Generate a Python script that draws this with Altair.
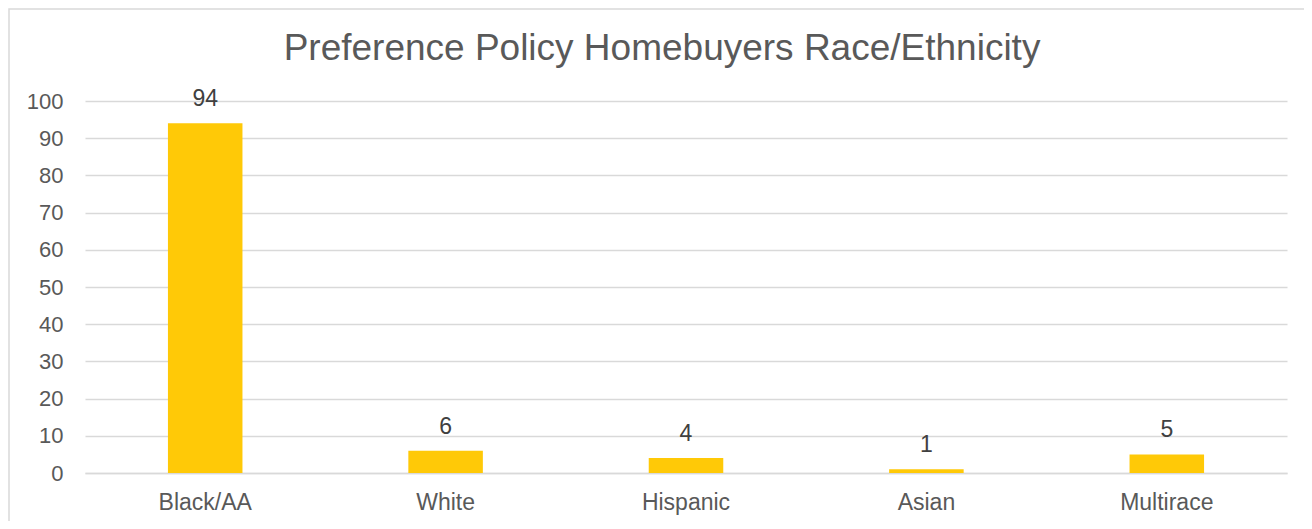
import altair as alt
import pandas as pd

categories = ["Black/AA", "White", "Hispanic", "Asian", "Multirace"]
values = [94, 6, 4, 1, 5]

df = pd.DataFrame({"category": categories, "value": values})
frame_df = pd.DataFrame({"k": [0]})

FONT = "Liberation Sans"
BAR = "#FFC907"

x_enc = alt.X(
    "category:N",
    sort=categories,
    title=None,
    scale=alt.Scale(paddingInner=0.69, paddingOuter=0.345),
    axis=alt.Axis(
        labelAngle=0,
        labelFontSize=23,
        labelColor="#595959",
        labelFont=FONT,
        labelPadding=18,
        ticks=False,
        domain=True,
        domainColor="#d9d9d9",
        domainWidth=1.5,
        grid=False,
    ),
)
y_enc = alt.Y(
    "value:Q",
    title=None,
    scale=alt.Scale(domain=[0, 100], nice=False),
    axis=alt.Axis(
        values=list(range(0, 101, 10)),
        labelFontSize=22,
        labelColor="#595959",
        labelFont=FONT,
        labelPadding=22,
        labelOverlap=False,
        ticks=False,
        domain=False,
        grid=True,
        gridColor="#d9d9d9",
        gridWidth=1.5,
    ),
)

base = alt.Chart(df).encode(x=x_enc, y=y_enc)

bars = base.mark_bar(color=BAR)

labels = base.mark_text(
    baseline="alphabetic", dy=-17, fontSize=23, color="#404040", font=FONT
).encode(text="value:Q")

frame = alt.Chart(frame_df).mark_rect(
    fillOpacity=0, stroke="#d9d9d9", strokeWidth=1.5, clip=False
).encode(
    x=alt.value(-76),
    x2=alt.value(1226),
    y=alt.value(-92),
    y2=alt.value(424),
)

chart = alt.layer(bars, labels, frame).properties(
    width=1202,
    height=372,
    autosize=alt.AutoSizeParams(type="none"),
    padding={"left": 77, "top": 93, "right": 17, "bottom": 48},
    title=alt.TitleParams(
        "Preference Policy Homebuyers Race/Ethnicity",
        fontSize=37,
        font=FONT,
        fontWeight="normal",
        color="#595959",
        anchor="middle",
        frame="group",
        dx=-24,
        offset=-60,
    ),
).configure(background="white").configure_view(strokeWidth=0)

chart.save("out.html", embed_options={"renderer": "svg", "actions": False})
